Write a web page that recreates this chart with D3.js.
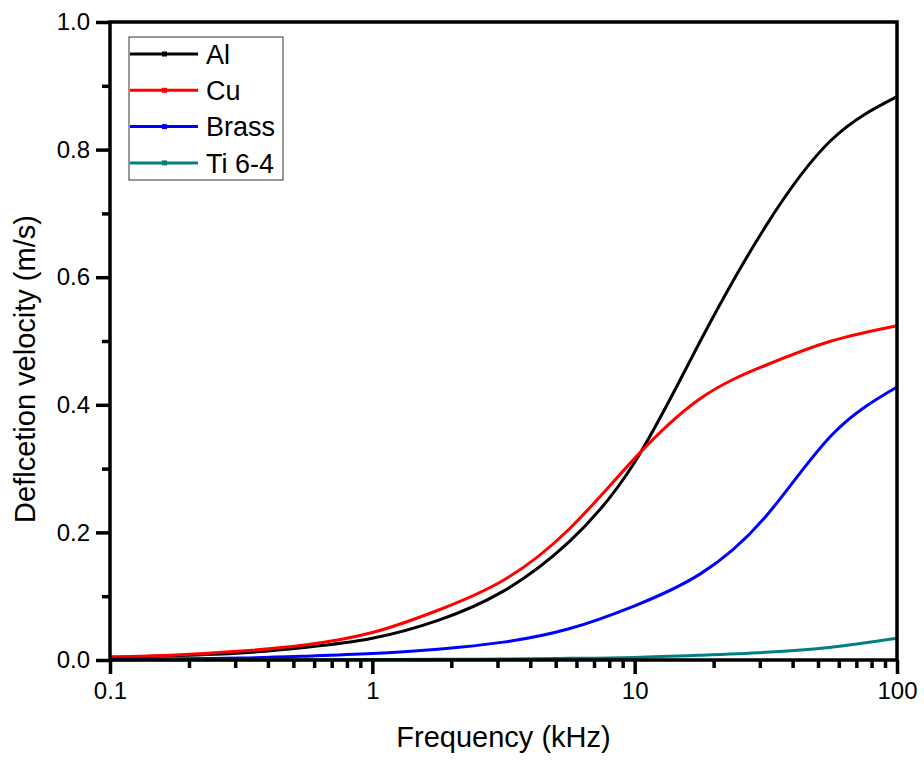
<!DOCTYPE html>
<html>
<head>
<meta charset="utf-8">
<script src="https://cdn.jsdelivr.net/npm/d3@7"></script>
<style>
body { margin: 0; background: #fff; }
text { font-family: "Liberation Sans", Arial, sans-serif; fill: #000; }
</style>
</head>
<body>
<svg width="924" height="761"></svg>
<script>
// values (frequency in kHz, velocity in m/s)
var freqs = [0.1, 0.178, 0.316, 0.562, 1, 1.78, 3.16, 5.62, 10, 17.8, 31.6, 56.2, 100]
var alVel = [0.004, 0.007, 0.011, 0.02, 0.034, 0.062, 0.108, 0.185, 0.31, 0.5, 0.68, 0.815, 0.883]
var cuVel = [0.005, 0.008, 0.014, 0.024, 0.043, 0.078, 0.125, 0.205, 0.316, 0.41, 0.462, 0.5, 0.524]
var brassVel = [0.001, 0.002, 0.003, 0.006, 0.01, 0.017, 0.028, 0.049, 0.085, 0.135, 0.225, 0.352, 0.428]
var tiVel = [0, 0.0002, 0.0003, 0.0004, 0.0006, 0.001, 0.0016, 0.0026, 0.004, 0.0075, 0.012, 0.02, 0.034]

var seriesNames = ['Al', 'Cu', 'Brass', 'Ti 6-4']
var seriesColors = ['#000000', '#ff0000', '#0000ff', '#008080']
var xTickValues = [0.1, 1, 10, 100]
var yTickValues = [0, 0.2, 0.4, 0.6, 0.8, 1.0]

var series = [
	{name: seriesNames[0], color: seriesColors[0], vel: alVel},
	{name: seriesNames[1], color: seriesColors[1], vel: cuVel},
	{name: seriesNames[2], color: seriesColors[2], vel: brassVel},
	{name: seriesNames[3], color: seriesColors[3], vel: tiVel}
]

// plot box (window.top is read-only, so avoid bare "top")
var plotLeft = 110, plotRight = 897, plotTop = 22, plotBottom = 660

var svg = d3.select('svg')

var x = d3.scaleLog().domain([0.1, 100]).range([plotLeft, plotRight])
var y = d3.scaleLinear().domain([0, 1]).range([plotBottom, plotTop])

// minor ticks
var xMinor = []
for (var d = 0.1; d < 100; d *= 10) {
	for (var k = 2; k <= 9; k++) xMinor.push(+(d * k).toFixed(3))
}
var yMinor = [0.1, 0.3, 0.5, 0.7, 0.9]

var xAxis = svg.append('g').attr('transform', 'translate(0,' + plotBottom + ')')
	.call(d3.axisBottom(x).tickValues(xTickValues).tickFormat(d3.format('')).tickSize(14).tickPadding(8))
svg.append('g').attr('transform', 'translate(0,' + plotBottom + ')')
	.call(d3.axisBottom(x).tickValues(xMinor).tickFormat('').tickSize(8))

svg.append('g').attr('transform', 'translate(' + plotLeft + ',0)')
	.call(d3.axisLeft(y).tickValues(yTickValues).tickFormat(d3.format('.1f')).tickSize(14).tickPadding(6))
svg.append('g').attr('transform', 'translate(' + plotLeft + ',0)')
	.call(d3.axisLeft(y).tickValues(yMinor).tickFormat('').tickSize(8))

svg.selectAll('.domain').remove()
svg.selectAll('.tick line').attr('stroke', '#000').attr('stroke-width', 3.5)
svg.selectAll('.tick text').attr('font-size', 24).attr('font-family', '"Liberation Sans", Arial, sans-serif')
xAxis.selectAll('.tick text').attr('dy', '0.72em')

// curves - natural spline keeps them smooth like the original
var line = d3.line()
	.x(function(p) {return x(p[0])})
	.y(function(p) {return y(p[1])})
	.curve(d3.curveNatural)

var plot = svg.append('g')
plot.selectAll('path')
	.data(series)
	.enter().append('path')
	.attr('d', function(s) {return line(d3.zip(freqs, s.vel))})
	.attr('fill', 'none')
	.attr('stroke', function(s) {return s.color})
	.attr('stroke-width', 3)

// frame
svg.append('rect')
	.attr('x', plotLeft).attr('y', plotTop)
	.attr('width', plotRight - plotLeft).attr('height', plotBottom - plotTop)
	.attr('fill', 'none').attr('stroke', '#000').attr('stroke-width', 3.5)

// legend
var legend = svg.append('g')
legend.append('rect')
	.attr('x', 129).attr('y', 37).attr('width', 154).attr('height', 143)
	.attr('fill', '#fff').attr('stroke', '#333').attr('stroke-width', 1)

var rows = legend.selectAll('g.row')
	.data(series)
	.enter().append('g')
	.attr('class', 'row')
	.attr('transform', function(s, i) {return 'translate(0,' + (54 + i * 36.3) + ')'})
rows.append('line')
	.attr('x1', 130).attr('x2', 198)
	.attr('stroke', function(s) {return s.color})
	.attr('stroke-width', 3)
rows.append('rect')
	.attr('x', 162).attr('y', -2.5).attr('width', 5).attr('height', 5)
	.attr('fill', function(s) {return s.color})
rows.append('text')
	.attr('x', 206).attr('dy', '0.36em')
	.attr('font-size', 27)
	.text(function(s) {return s.name})

// axis titles
svg.append('text')
	.attr('x', (plotLeft + plotRight) / 2).attr('y', 747)
	.attr('text-anchor', 'middle')
	.attr('font-size', 29)
	.text('Frequency (kHz)')

svg.append('text')
	.attr('transform', 'translate(35,369) rotate(-90)')
	.attr('text-anchor', 'middle')
	.attr('font-size', 29)
	.text('Deflcetion velocity (m/s)')
</script>
</body>
</html>
